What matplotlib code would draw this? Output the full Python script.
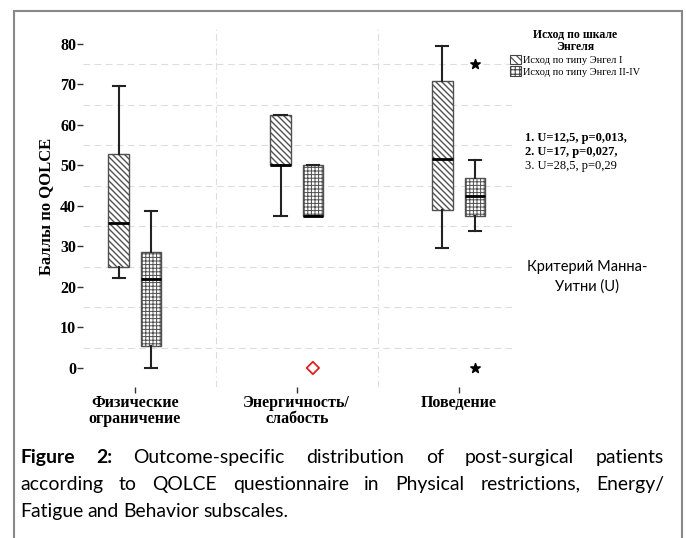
import matplotlib.pyplot as plt
from matplotlib.patches import Patch, Rectangle
import numpy as np

# категории и значения боксплотов
categories = ["Физические\nограничение", "Энергичность/\nслабость", "Поведение"]

engel1_whislo = [22.3, 37.5, 29.5]
engel1_q1 = [25.0, 50.0, 39.0]
engel1_med = [35.7, 50.0, 51.5]
engel1_q3 = [52.8, 62.5, 70.7]
engel1_whishi = [69.5, 62.5, 79.5]

engel2_whislo = [0.0, 37.5, 33.9]
engel2_q1 = [5.4, 37.5, 37.5]
engel2_med = [21.9, 37.5, 42.5]
engel2_q3 = [28.6, 50.0, 46.8]
engel2_whishi = [38.8, 50.0, 51.3]

# выбросы группы Энгел II-IV
diamond_cat = [1]
diamond_val = [0.0]
star_cat = [2, 2]
star_val = [75.0, 0.0]

legend_labels = ["Исход по типу Энгел I", "Исход по типу Энгел II-IV"]
y_ticks = [0, 10, 20, 30, 40, 50, 60, 70, 80]

W, H = 686, 538
# dpi 108: плитка штриховки 108 px -> 36 линий = шаг 3 px
DPI = 108
k = 100 / DPI  # размеры подобраны под 100 dpi
serif = "Liberation Serif"
sans = "Lato"

fig = plt.figure(figsize=((W + 0.01) / DPI, (H + 0.01) / DPI), dpi=DPI)
ax = fig.add_axes([83 / W, 1 - 387 / H, (512 - 83) / W, (387 - 26) / H])

pos = np.arange(len(categories))


def make_stats(lo, q1, med, q3, hi):
    return [dict(whislo=a, q1=b, med=c, q3=d, whishi=e, fliers=[])
            for a, b, c, d, e in zip(lo, q1, med, q3, hi)]


common = dict(widths=0.125, patch_artist=True, showfliers=False, capwidths=0.075,
              medianprops=dict(color="black", lw=2 * k),
              whiskerprops=dict(color="#222222", lw=1.5 * k),
              capprops=dict(color="#222222", lw=1.5 * k))

plt.rcParams['hatch.linewidth'] = 1.0 * k
ax.bxp(make_stats(engel1_whislo, engel1_q1, engel1_med, engel1_q3, engel1_whishi),
       positions=pos - 0.1,
       boxprops=dict(facecolor="white", edgecolor="#505050", hatch="\\" * 6, lw=1 * k),
       **common)
plt.rcParams['hatch.linewidth'] = 0.7 * k
ax.bxp(make_stats(engel2_whislo, engel2_q1, engel2_med, engel2_q3, engel2_whishi),
       positions=pos + 0.1,
       boxprops=dict(facecolor="white", edgecolor="#505050", hatch="+" * 5, lw=1 * k),
       **common)

ax.scatter(np.array(diamond_cat) + 0.1, diamond_val, marker="D", s=40 * k * k,
           facecolor="none", edgecolor="#e02020", lw=1.3 * k, zorder=5)
ax.scatter(np.array(star_cat) + 0.1, star_val, marker="*", s=50 * k * k,
           color="black", zorder=5)

ax.set_xlim(-0.32, 2.33)
ax.set_ylim(-4.7, 84.4)
ax.set_yticks(y_ticks)
ax.set_yticklabels([str(v) for v in y_ticks], fontfamily=serif, fontweight="bold",
                   fontsize=11.5 * k)
ax.set_xticks(pos)
ax.set_xticklabels(categories, fontfamily=serif, fontweight="bold", fontsize=11.5 * k,
                   linespacing=0.95)
ax.set_yticks(np.arange(5, 80, 10), minor=True)
ax.set_xticks([0.5, 1.5], minor=True)
ax.tick_params(axis="both", which="minor", length=0)
ax.tick_params(axis="y", which="major", length=4 * k, width=k, color="#333333", pad=k)
ax.tick_params(axis="x", which="major", length=4 * k, width=k, color="#333333", pad=2 * k)
ax.grid(which="minor", axis="y", color="#dddddd", lw=0.8 * k, ls=(0, (6, 4)))
ax.grid(which="minor", axis="x", color="#dddddd", lw=0.8 * k, ls=(0, (6, 3, 1, 3)))
for s in ax.spines.values():
    s.set_visible(False)
ax.set_ylabel("Баллы по QOLCE", fontfamily=serif, fontweight="bold", fontsize=12 * k,
              labelpad=4 * k)

# легенда
plt.rcParams['hatch.linewidth'] = 0.8 * k
handles = [Patch(facecolor="white", edgecolor="#444444", hatch="\\" * 5, lw=0.8 * k),
           Patch(facecolor="white", edgecolor="#444444", hatch="++++", lw=0.8 * k)]
leg = fig.legend(handles, legend_labels, loc="upper left", bbox_to_anchor=(508 / W, 1 - 27 / H),
                 title="Исход по шкале\nЭнгеля", frameon=False,
                 prop={"family": serif, "size": 7.5 * k},
                 title_fontproperties={"family": serif, "weight": "bold", "size": 8.5 * k},
                 handlelength=1.0, handleheight=1.0, handletextpad=0.2, labelspacing=0.15,
                 borderaxespad=0, borderpad=0.2)
leg.get_title().set_multialignment("center")
leg.get_title().set_linespacing(1.0)

fig.text(525 / W, 1 - 138 / H, "1. U=12,5, p=0,013,", fontfamily=serif, fontweight="bold",
         fontsize=9 * k, va="center")
fig.text(525 / W, 1 - 152 / H, "2. U=17, p=0,027,", fontfamily=serif, fontweight="bold",
         fontsize=9 * k, va="center")
fig.text(525 / W, 1 - 166 / H, "3. U=28,5, p=0,29", fontfamily=serif, fontsize=9 * k,
         va="center")
fig.text(587 / W, 1 - 277 / H, "Критерий Манна-\nУитни (U)", fontfamily=sans, fontsize=10.5 * k,
         ha="center", va="center", linespacing=1.5)

# рамка
fig.add_artist(Rectangle((14 / W, -0.01), (682 - 14) / W, 1 - 11 / H + 0.01,
                         transform=fig.transFigure, fill=False, edgecolor="#888888",
                         lw=1.5 * k))

# подпись с выравниванием по ширине
renderer = fig.canvas.get_renderer()


def put_line(words, y, x0, x1, justify, nbold=0, size=14):
    arts = []
    for i, w in enumerate(words):
        t = fig.text(0, 1 - y / H, w, fontfamily=sans, fontsize=size * k, va="center",
                     fontweight="bold" if i < nbold else "normal")
        arts.append(t)
    widths = [a.get_window_extent(renderer).width for a in arts]
    space = size * 0.3
    if justify and len(words) > 1:
        space = (x1 - x0 - sum(widths)) / (len(words) - 1)
    x = x0
    for a, w in zip(arts, widths):
        a.set_x(x / W)
        x += w + space


cap1 = "Figure 2: Outcome-specific distribution of post-surgical patients".split()
cap2 = "according to QOLCE questionnaire in Physical restrictions, Energy/".split()
cap3 = "Fatigue and Behavior subscales.".split()
put_line(cap1, 457, 20, 664, True, nbold=2)
put_line(cap2, 484, 20, 664, True)
put_line(cap3, 511, 20, 664, False)

fig.savefig("out.png", dpi=DPI)
